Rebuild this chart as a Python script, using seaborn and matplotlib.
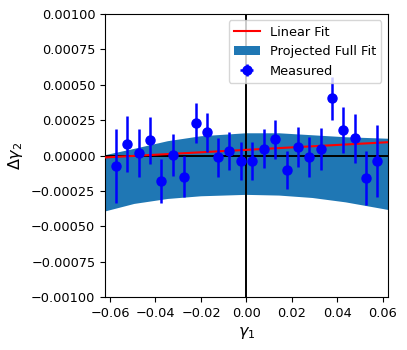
import numpy as np
import matplotlib
matplotlib.use("Agg")
import matplotlib.pyplot as plt
import seaborn as sb

# measured points
gamma1 = [-0.0575, -0.0524, -0.0473, -0.0424, -0.0375, -0.0323, -0.0274, -0.0223,
          -0.0174, -0.0124, -0.0075, -0.0023, 0.0026, 0.0076, 0.0126, 0.0177,
          0.0227, 0.0277, 0.0326, 0.0376, 0.0426, 0.0477, 0.0527, 0.0576]
dgamma2 = [-7.4e-5, 8.1e-5, 2.0e-5, 1.07e-4, -1.78e-4, 2.0e-6, -1.5e-4, 2.32e-4,
           1.64e-4, -1.3e-5, 3.2e-5, -3.9e-5, -3.9e-5, 4.8e-5, 1.14e-4, -1.03e-4,
           6.0e-5, -1.1e-5, 4.8e-5, 4.04e-4, 1.83e-4, 1.21e-4, -1.57e-4, -3.9e-5]
dgamma2_err = [2.6e-4, 1.97e-4, 1.71e-4, 1.66e-4, 1.56e-4, 1.48e-4, 1.44e-4, 1.41e-4,
               1.36e-4, 1.40e-4, 1.36e-4, 1.34e-4, 1.32e-4, 1.38e-4, 1.40e-4, 1.36e-4,
               1.41e-4, 1.43e-4, 1.50e-4, 1.50e-4, 1.63e-4, 1.75e-4, 1.92e-4, 2.55e-4]

# linear fit (end points)
fit_x = [-0.063, 0.063]
fit_y = [-1.4e-5, 9.5e-5]

# projected full fit band
band_x = [-0.063, -0.0495, -0.0348, -0.0202, -0.0004, 0.0142, 0.0288, 0.0435, 0.063]
band_hi = [4.0e-6, 5.1e-5, 1.05e-4, 1.40e-4, 1.61e-4, 1.61e-4, 1.47e-4, 1.33e-4, 1.22e-4]
band_lo = [-3.94e-4, -3.38e-4, -3.03e-4, -2.84e-4, -2.74e-4, -2.79e-4, -2.96e-4, -3.27e-4, -3.83e-4]

plt.rcParams["font.size"] = 9.3

fig = plt.figure(figsize=(4.07, 3.5), dpi=100)
ax = fig.add_axes([0.258, 0.151, 0.695, 0.809])

ax.fill_between(band_x, band_lo, band_hi, color="#1f77b4", linewidth=0,
                label="Projected Full Fit", zorder=1)
ax.axhline(0, color="black", linewidth=1.4, zorder=2)
ax.axvline(0, color="black", linewidth=1.4, zorder=2)
sb.lineplot(x=fit_x, y=fit_y, color="red", linewidth=1.5, label="Linear Fit",
            ax=ax, zorder=3)
ax.errorbar(gamma1, dgamma2, yerr=dgamma2_err, xerr=0, fmt="o", color="blue",
            markersize=6.5, elinewidth=1.8, label="Measured", zorder=4)

ax.set_xlim(-0.0622, 0.0622)
ax.set_ylim(-0.001, 0.001)
ax.set_xticks([-0.06, -0.04, -0.02, 0.0, 0.02, 0.04, 0.06])
ax.set_yticks(np.linspace(-0.001, 0.001, 9))
ax.ticklabel_format(axis="y", style="plain", useOffset=False)
ax.set_xlabel(r"$\gamma_1$", fontsize=11.5)
ax.set_ylabel(r"$\Delta\gamma_2$", fontsize=11.5)

h, l = ax.get_legend_handles_labels()
order = [l.index("Linear Fit"), l.index("Projected Full Fit"), l.index("Measured")]
ax.legend([h[i] for i in order], [l[i] for i in order], loc="upper right")

plt.savefig("out.png", dpi=100)
